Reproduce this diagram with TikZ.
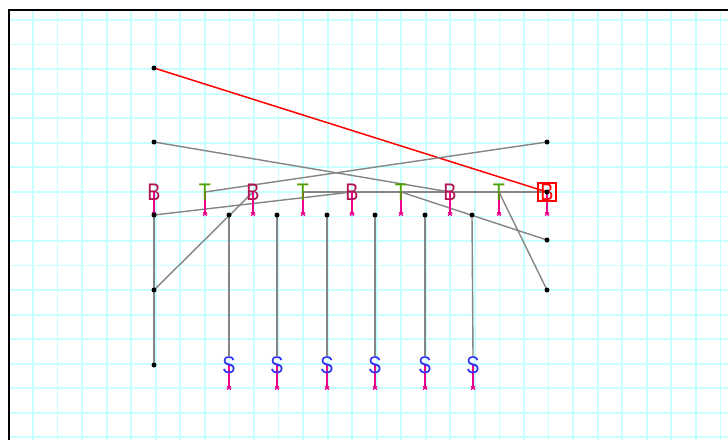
\documentclass[tikz,border=0pt]{standalone}
\usepackage{fontspec}
\setmainfont{Liberation Sans}
\usetikzlibrary{backgrounds}
\definecolor{gridcyan}{HTML}{C8FFFF}
\definecolor{bcol}{HTML}{B0124F}
\definecolor{tcol}{HTML}{4DA000}
\definecolor{scol}{HTML}{3030F0}
\definecolor{wirecol}{HTML}{858585}
\newcommand{\narrow}[1]{\scalebox{0.82}[1]{#1}}
\pgfdeclarelayer{gridlayer}
\pgfsetlayers{gridlayer,background,main}

\begin{document}
\begin{tikzpicture}[
    x=1pt, y=-1pt,
    gridline/.style={draw=gridcyan, line width=1.8pt},
    frame/.style={draw=black, line width=1.6pt},
    wire/.style={draw=wirecol, line width=1.4pt},
    hotwire/.style={draw=red, line width=1.5pt},
    dot/.style={circle, fill=black, inner sep=0pt, minimum size=5pt},
    letter/.style={inner sep=0pt, font=\fontsize{24}{24}\selectfont},
    bnode/.style={letter, text=bcol},
    tnode/.style={letter, text=tcol},
    snode/.style={letter, text=scol},
    stem/.style={draw=magenta, line width=1.3pt},
    starmark/.pic={
        \draw[magenta, line width=0.8pt] (-2.5,0) -- (2.5,0) (-1.8,-1.8) -- (1.8,1.8) (-1.8,1.8) -- (1.8,-1.8);
    }
]
\useasboundingbox (0,0) rectangle (728,440);

% --- sheet: grid and frame ---
\begin{pgfonlayer}{gridlayer}
  \fill[white] (0,0) rectangle (728,440);
  \foreach \i in {0,...,28}
    \draw[gridline] ({33+24.55*\i},10) -- ({33+24.55*\i},440);
  \foreach \j in {0,...,17}
    \draw[gridline] (9,{20+24.55*\j}) -- (728,{20+24.55*\j});
  \draw[frame] (728,10) -| (9,440);
\end{pgfonlayer}

% --- labels on the middle row ---
\foreach \n/\x in {1/154, 2/253, 3/352, 4/450}
  \node[bnode] (b\n) at (\x,192) {\narrow{B}};
\node[letter, text=red] (b5) at (547,192) {\narrow{B}};
\node[draw=red, line width=2pt, minimum size=18pt, inner sep=0pt] (b5box) at (b5) {};
\foreach \n/\x in {1/205, 2/303, 3/401, 4/499}
  \node[tnode] (t\n) at (\x,192) {\narrow{T}};

% --- labels on the bottom row ---
\foreach \n/\x in {1/229, 2/277, 3/327, 4/375, 5/425, 6/473}
  \node[snode] (s\n) at (\x,365) {\narrow{S}};

% --- end points ---
\foreach \n/\y in {1/68, 2/142, 3/215, 4/290, 5/365}
  \node[dot] (l\n) at (154,\y) {};
\foreach \n/\y in {1/142, 2/192, 3/240, 4/290}
  \node[dot] (r\n) at (547,\y) {};
\foreach \n/\x in {1/229, 2/277, 3/327, 4/375, 5/425, 6/472}
  \node[dot] (d\n) at (\x,215) {};

% --- wires and pin stems, kept under the labels ---
\begin{pgfonlayer}{background}
  \draw[hotwire] (l1.center) -- (b5.center);
  \foreach \l/\b in {2/4, 3/3, 4/2, 5/1}
    \draw[wire] (l\l.center) -- (b\b.center);
  \foreach \r/\t in {1/1, 2/2, 3/3, 4/4}
    \draw[wire] (r\r.center) -- (t\t.center);
  \foreach \n in {1,...,6}
    \draw[wire] (d\n.center) -- (s\n.north);

  \foreach \n in {1,...,4} {
    \draw[stem] (b\n.center) -- ++(0,22) pic {starmark};
    \draw[stem] (t\n.center) -- ++(0,22) pic {starmark};
  }
  \draw[stem] (b5.center) -- ++(0,22) pic {starmark};
  \foreach \n in {1,...,6}
    \draw[stem] (s\n.center) -- ++(0,23) pic {starmark};
\end{pgfonlayer}

\end{tikzpicture}
\end{document}
